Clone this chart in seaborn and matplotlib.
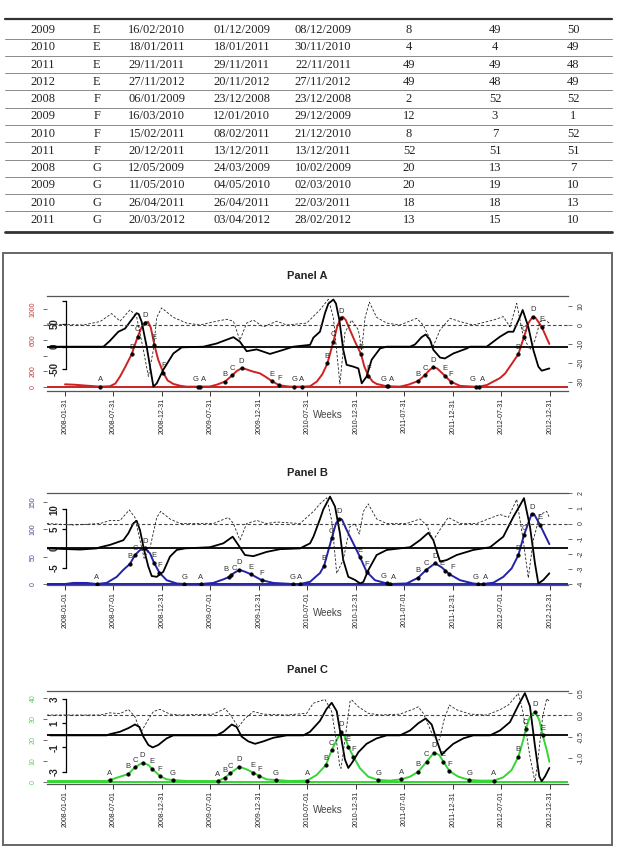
import matplotlib
matplotlib.use("Agg")
import matplotlib.pyplot as plt
import seaborn as sns
from matplotlib.patches import Rectangle

sns.set_style("white")
plt.rcParams['font.family'] = ['Liberation Sans', 'DejaVu Sans']

# ---- table values ----
tab_year = ['2009', '2010', '2011', '2012', '2008', '2009', '2010', '2011', '2008', '2009', '2010', '2011']
tab_site = ['E', 'E', 'E', 'E', 'F', 'F', 'F', 'F', 'G', 'G', 'G', 'G']
tab_d1 = ['16/02/2010', '18/01/2011', '29/11/2011', '27/11/2012', '06/01/2009', '16/03/2010',
          '15/02/2011', '20/12/2011', '12/05/2009', '11/05/2010', '26/04/2011', '20/03/2012']
tab_d2 = ['01/12/2009', '18/01/2011', '29/11/2011', '20/11/2012', '23/12/2008', '12/01/2010',
          '08/02/2011', '13/12/2011', '24/03/2009', '04/05/2010', '26/04/2011', '03/04/2012']
tab_d3 = ['08/12/2009', '30/11/2010', '22/11/2011', '27/11/2012', '23/12/2008', '29/12/2009',
          '21/12/2010', '13/12/2011', '10/02/2009', '02/03/2010', '22/03/2011', '28/02/2012']
tab_w1 = [8, 4, 49, 49, 2, 12, 8, 52, 20, 20, 18, 13]
tab_w2 = [49, 4, 49, 48, 52, 3, 7, 51, 13, 19, 18, 15]
tab_w3 = [50, 49, 48, 49, 52, 1, 52, 51, 7, 10, 13, 10]

# ---- x axis (week index) ----
tick_weeks = [0, 26, 52, 78, 104, 130, 156, 182, 208, 234, 260]
a_xlab = ['2008-01-31', '2008-07-31', '2008-12-31', '2009-07-31', '2009-12-31', '2010-07-31',
          '2010-12-31', '2011-07-31', '2011-12-31', '2012-07-31', '2012-12-31']
bc_xlab = ['2008-01-01', '2008-07-01', '2008-12-31', '2009-07-01', '2009-12-31', '2010-07-01',
           '2010-12-31', '2011-07-01', '2011-12-31', '2012-07-01', '2012-12-31']

# ---- Panel A ----
a_col_wk = [0, 5, 12, 18.8, 24.1, 27, 29.5, 32.2, 35.8, 39.0, 41, 42.9, 44.5, 46, 47.9, 50, 52.7, 55, 58.1, 62,
            65.2, 71.5, 77.7, 81.3, 85.8, 89.7, 92, 94.7, 97, 100, 104.6, 108, 110.8, 114.9, 120.6, 126.9,
            131.4, 135, 138, 140.7, 143.9, 146, 147.8, 149, 150.5, 152.8, 155.5, 158.7, 160.5, 162.6, 165,
            167.1, 172.5, 179.6, 184, 189.4, 193, 195.5, 197.5, 199.5, 201.5, 203.7, 206.8, 211.8, 218.9,
            222, 226.1, 233.2, 236, 238.6, 243.1, 246.1, 248.5, 250.8, 252.5, 255.6, 259.7]
a_col_val = [30, 25, 12, 0, 5, 40, 130, 250, 420, 645, 760, 825, 835, 760, 540, 345, 180, 80, 35, 10,
             0, 0, 2, 25, 65, 146, 200, 237, 225, 200, 170, 120, 73, 17, 0, 0,
             5, 65, 160, 300, 580, 780, 880, 900, 860, 730, 580, 420, 260, 140, 65,
             35, 5, 0, 25, 73, 150, 215, 250, 235, 190, 140, 65, 10, 0,
             0, 20, 110, 170, 260, 420, 640, 820, 900, 880, 770, 550]
a_blk_wk = [-8, 20.6, 24.1, 28.6, 32.2, 34.9, 38.4, 39.5, 41.1, 43.8, 46.5, 47.4, 49.2, 52.7, 58.1, 62.6,
            74.2, 81.3, 90.3, 93.8, 97.4, 102.8, 109.9, 117.1, 122.4, 131.4, 133.2, 136.7, 139.4, 141.2,
            143.9, 145.3, 147.1, 149.2, 151.0, 154.6, 157.3, 159.1, 161.7, 164.4, 168.9, 172.5, 185.0,
            187.7, 191.2, 193.4, 195.7, 197.5, 201.1, 203.7, 208.2, 215.4, 217.2, 226.1, 233.2, 237.7,
            240.4, 244.0, 245.4, 248.4, 251.1, 253.8, 255.6, 259.7]
a_blk_val = [0, 0, 13, 33, 40, 55, 74, 72, 55, 0, -66, -88, -81, -51, -15, -1.5,
             0, 7, 21, 11, -10, -6, -16, -7, 0, 4, 20, 33, 74, 95,
             104, 95, 59, -7, -40, -44, -48, -81, -66, -29, -4, 0, 0,
             5, 21, 27, 15, -7, -24, -26, -15, -4, 0, 0, 22, 33,
             33, 66, 81, 44, -7, -44, -53, -48]
a_dsh_wk = [-9.8, 9.8, 18.8, 25.0, 29.5, 34.9, 38.4, 42.0, 44.7, 47.4, 49.2, 51.8, 58.1, 65.2, 72.4, 81.3,
            86.7, 90.3, 93.8, 97.4, 101.0, 106.3, 113.5, 118.9, 129.6, 136.7, 141.2, 143.9, 147.4, 150.1,
            153.7, 157.3, 159.1, 160.9, 163.2, 167.1, 172.5, 179.6, 188.6, 192.1, 197.5, 201.1, 206.4,
            211.8, 218.9, 229.7, 235.0, 238.6, 242.2, 245.7, 249.3, 252.0, 254.7, 257.4, 259.7]
a_dsh_val = [0.5, 0, 1.8, 6, 2, 8, 4.4, -13, -27, -13, 4, 9, 4, 1, 0, 2,
             3, 2, -8, 1, 2.6, -1, 2, 0, 1, 8, 13.5, 4, -31, -4,
             2.6, -2.6, -13, 4, 12, 4, 1, 0, 3.5, 0, -11, -2.6, 3.5,
             1.8, 0, 2.6, 4.4, -1, 11.4, -6, -13, -8, 1.8, 2.6, 1]
a_pt_lab = ['A', 'B', 'C', 'D', 'E', 'F', 'G', 'A', 'B', 'C', 'D', 'E', 'F', 'G', 'A', 'B', 'C', 'D', 'E', 'F',
            'G', 'A', 'B', 'C', 'D', 'E', 'F', 'G', 'A', 'B', 'C', 'D', 'E']
a_pt_wk = [18.8, 35.8, 39.0, 42.9, 47.9, 52.7, 71.5, 72.4, 85.8, 89.7, 94.7, 110.8, 114.9, 123.0, 126.9,
           140.7, 143.9, 147.8, 158.7, 162.6, 172.5, 173.2, 189.4, 193.0, 197.5, 203.7, 206.8, 220.2, 222.0,
           243.1, 246.1, 250.8, 255.6]
a_pt_val = [0, 420, 645, 825, 540, 180, 0, 0, 65, 146, 237, 73, 17, 0, 0,
            300, 580, 880, 420, 140, 5, 3, 73, 150, 250, 140, 65, 0, 0,
            420, 640, 900, 770]

# ---- Panel B ----
b_col_wk = [-9.8, 0, 4.5, 11.6, 17, 22.3, 27.7, 31.3, 34.9, 37.5, 40.2, 42.9, 45.6, 47.7, 50.6, 54.5, 59.9,
            64, 72.9, 79.5, 84.9, 88.1, 90.3, 93.5, 96.5, 99.6, 102.8, 105.5, 111.7, 122.1, 126, 131.4, 134,
            136.7, 138.9, 143, 145.3, 147.1, 148.5, 151, 155.5, 158.2, 161.7, 166.2, 172.5, 174.3, 183.2,
            189.4, 193.6, 198.4, 202, 206.1, 211.8, 218.9, 221.6, 223.9, 229.7, 235, 239.5, 243.1, 246.1,
            250.2, 251.5, 254.7, 259.7]
b_col_val = [0, 0, 2, 2, 0, 2, 13, 26, 37, 53, 62, 65, 56, 39, 21, 7, 1,
             0, 0, 2, 8.5, 13, 19.5, 26, 22.5, 18, 12, 7, 2, 0, 0, 4, 12,
             20, 33, 83.5, 111, 119, 118, 99, 68, 49, 22.5, 7, 1, 0, 1,
             11.6, 25.6, 37.8, 30.5, 18, 7, 1, 0, 0, 2.4, 13, 28.7, 53, 89.6,
             128, 128, 108, 73]
b_blk_wk = [-9.8, 8, 17, 18.8, 24.1, 31.3, 34, 36.6, 38.4, 40.2, 42.4, 44.7, 46.5, 49.2, 52.7, 56.3, 59.9,
            64.3, 77.7, 84.9, 89.9, 92.9, 96.5, 101, 108.1, 115.3, 126, 131.4, 133.2, 136.7, 138.5, 142.1,
            144.8, 147.4, 149.2, 151.9, 155.5, 158.2, 160, 162.6, 167.1, 172.5, 179.6, 185, 190.3, 194.8,
            197.5, 201.1, 204.6, 210, 218.9, 227.9, 235, 240.4, 244, 246.1, 249.3, 252, 253.8, 256.5, 259.7]
b_blk_val = [0, -0.3, 0, 0.3, 0.9, 2.1, 3.9, 6.4, 7.1, 4.7, -0.4, -4.7, -7.1, -7.3, -6, -2.1, -0.4,
             0, 0.3, 1.3, 3, 0.9, -1.7, -2, -0.9, -0.2, 0, 1.3, 3, 7.5, 10, 13.3,
             10.7, 3.9, -3, -7.3, -8.1, -9, -8.6, -5.6, -1.7, -0.4, 0, 0.3, 2.1, 4,
             2.1, -3.4, -3, -1.7, -0.4, 0.3, 3, 8.1, 11.1, 12.9, 5.6, -3.9, -9, -8.1, -6.4]
b_dsh_wk = [-9.8, 4.5, 18.8, 24.1, 29.5, 34.5, 37.5, 40.2, 42.4, 45.6, 49.2, 51.3, 56.3, 61.7, 79.5, 87.6,
            90.3, 93.8, 97.4, 102.8, 108.1, 113.5, 126, 133.2, 136.7, 140.3, 143, 145.7, 149.2, 152.8, 155.5,
            157.8, 160, 162.6, 167.1, 172.5, 183.2, 190.3, 193.9, 197.5, 201.1, 205.5, 211.8, 220.7, 233.2,
            237.7, 242.2, 245.7, 248.4, 251.1, 254.7, 258.3, 259.7]
b_dsh_val = [0, -0.1, 0, 0.2, 0.2, 0.9, 0.4, -1.1, -2.3, -1.6, 0.4, 0.8, 0.3, 0, 0, 0.4,
             0, -1.1, 0, 0.2, 0, 0.1, 0, 0.8, 1.3, 1.7, 0.2, -3.3, -2.4, -0.2, 0,
             -0.7, 0.8, 1.3, 0.3, 0, 0, 0.3, -0.1, -1.1, -0.4, 0.4, 0, 0, 0.6,
             0.4, 1.6, -1.1, -3.6, -1.1, 0.6, 0.8, 0.4]
b_pt_lab = ['A', 'B', 'C', 'D', 'E', 'F', 'G', 'A', 'B', 'C', 'D', 'E', 'F', 'G', 'A', 'B', 'C', 'D', 'E', 'F',
            'G', 'A', 'B', 'C', 'D', 'E', 'F', 'G', 'A', 'B', 'C', 'D', 'E']
b_pt_wk = [17, 34.9, 37.5, 42.9, 47.7, 50.6, 64.0, 72.9, 88.1, 89.0, 93.5, 99.6, 105.5, 122.1, 126.0,
           138.9, 143.0, 147.1, 158.2, 161.7, 172.5, 174.3, 189.4, 193.6, 198.4, 204.0, 206.1, 221.6, 223.9,
           243.1, 246.1, 250.2, 254.7]
b_pt_val = [0, 37, 53, 65, 39, 21, 0, 0, 13, 16, 26, 18, 7, 0, 0,
            33, 83.5, 119, 49, 22.5, 1, 0, 11.6, 25.6, 37.8, 24, 18, 0, 0,
            53, 89.6, 128, 108]

# ---- Panel C ----
c_col_wk = [-9.8, 22.3, 24.1, 29.5, 34, 37.5, 41.6, 44.7, 46.8, 50.9, 54.5, 57.7, 65.2, 81.9, 85.8, 88.5,
            93.5, 97.4, 101, 104.2, 108.1, 113, 120.6, 129.8, 134.9, 139.9, 143, 145.7, 148, 150.1, 151.9,
            154.6, 158.2, 162.6, 168, 174.3, 180.2, 185, 189.4, 193.9, 197.8, 200.7, 202.9, 206.1, 210.9,
            216.8, 222.5, 230, 235, 239.5, 243.1, 245.7, 247, 249.3, 252, 254.3, 256.1, 258.3, 259.7]
c_col_val = [0.3, 0.3, 0.8, 2.4, 3.7, 6.9, 9.1, 8, 6.1, 2.7, 1.1, 0.8, 0.3, 0.3, 1.9, 4,
             7.2, 5.9, 4.3, 2.7, 1.1, 0.8, 0.3, 0.5, 3.2, 8, 15.2, 20, 24, 21.6, 16.8,
             12, 6.4, 2.4, 0.8, 0.5, 1.1, 2.4, 4.8, 9.6, 13.9, 12.8, 9.6, 5.1, 2.4,
             0.8, 0.5, 0.5, 2.1, 5.6, 12, 20, 25.1, 31.2, 33.6, 29.6, 22.4, 15.2, 9.6]
c_blk_wk = [-8, 22.3, 24.1, 29.5, 34, 37.5, 39.9, 42, 44.7, 47, 50, 54.5, 58.1, 81.3, 84.9, 89.4, 92, 94.7,
            98.3, 101.9, 106.3, 111.7, 118.9, 127.8, 131.4, 136.7, 140.3, 143, 145.7, 148.3, 150.1, 151.9,
            154.2, 157.3, 161.7, 167.1, 172.5, 179.6, 185, 189.4, 193.4, 196.6, 199.3, 202, 204.6, 208.2,
            213.6, 218.9, 227.9, 233.2, 238.6, 243.1, 246.6, 249.3, 252, 254.3, 255.6, 257.4, 259.7]
c_blk_val = [0, 0, 0.1, 0.3, 0.6, 0.9, 0.7, -0.1, -0.8, -1, -0.8, -0.25, 0, 0, 0.3, 0.9, 0.7, -0.1,
             -0.5, -0.7, -0.5, -0.2, 0, 0, 0.3, 1.2, 2.2, 2.7, 2.0, -0.4, -2.0, -2.7,
             -2.2, -1.4, -0.7, -0.25, 0, 0, 0.4, 1.0, 1.4, 0.9, -0.4, -1.6, -1.2, -0.7,
             -0.25, 0, 0, 0.4, 1.1, 2.5, 3.5, 2.4, -0.9, -3.4, -3.8, -3.4, -2.7]
c_dsh_wk = [-9.8, 18.8, 24.1, 29.5, 34, 37.5, 40.2, 41.1, 44.7, 47.4, 50.9, 56.3, 61.7, 79.5, 85.8, 89.4,
            92.9, 96.5, 101, 106.3, 118.9, 129.6, 133.1, 139.4, 143, 145.7, 147.4, 148, 150.1, 152.8, 153.7,
            157.3, 162.6, 168.9, 179.6, 187.7, 189.4, 192.1, 197.5, 200.7, 203.2, 206.1, 210, 217.2, 226.1,
            233.2, 237.7, 243.1, 245.7, 249.3, 252, 253.8, 256.1, 258.3, 259.7]
c_dsh_val = [0, 0, 0.05, 0.03, 0.13, -0.04, -0.35, -0.37, -0.1, 0.08, 0.13, 0.02, 0, 0.02, 0.15, -0.04,
             -0.28, -0.08, 0.08, 0.02, 0, 0.04, 0.27, 0.36, 0.08, -0.65, -1.2, -1.23, -0.58, 0.31, 0.35,
             0.19, 0.04, 0, 0.02, 0.15, 0.19, 0.04, -0.5, -0.58, -0.12, 0.23, 0.12, 0.02, 0,
             0.12, 0.23, 0.5, 0.04, -0.96, -1.54, -0.96, -0.04, 0.38, 0.31]
c_pt_lab = ['A', 'B', 'C', 'D', 'E', 'F', 'G', 'A', 'B', 'C', 'D', 'E', 'F', 'G', 'A', 'B', 'C', 'D', 'E', 'F',
            'G', 'A', 'B', 'C', 'D', 'E', 'F', 'G', 'A', 'B', 'C', 'D', 'E']
c_pt_wk = [24.1, 34.0, 37.5, 41.6, 46.8, 50.9, 57.7, 81.9, 85.8, 88.5, 93.5, 101.0, 104.2, 113.0, 129.8,
           139.9, 143.0, 148.0, 151.9, 154.6, 168.0, 180.2, 189.4, 193.9, 197.8, 202.9, 206.1, 216.8, 230.0,
           243.1, 247.0, 252.0, 256.1]
c_pt_val = [0.8, 3.7, 6.9, 9.1, 6.1, 2.7, 0.8, 0.3, 1.9, 4, 7.2, 4.3, 2.7, 0.8, 0.5,
            8, 15.2, 24, 16.8, 12, 0.8, 1.1, 4.8, 9.6, 13.9, 9.6, 5.1, 0.8, 0.5,
            12, 25.1, 33.6, 22.4]

panels = [
    dict(title='Panel A', top=295.7, bot=391.0, title_y=276, weeks_y=415,
         col='#cc2222', labcol='#c03a3a', xlab=a_xlab,
         cw=a_col_wk, cv=a_col_val, kw=a_blk_wk, kv=a_blk_val, dw=a_dsh_wk, dv=a_dsh_val,
         pl=a_pt_lab, pw=a_pt_wk, pv=a_pt_val,
         clim=(-56, 1171), klim=(-97.8, 112.5), dlim=(-34.7, 15.4),
         cticks=[0, 200, 400, 600, 800, 1000], clabs=['0', '200', '', '600', '', '1000'],
         kticks=[-50, 0, 50, 100], klabs=['-50', '0', '50', ''], kbounds=(-50, 100),
         dticks=[-30, -20, -10, 0, 10], dlabs=['-30', '-20', '-10', '0', '10']),
    dict(title='Panel B', top=492.7, bot=585.0, title_y=473, weeks_y=613,
         col='#2222aa', labcol='#4a4a9a', xlab=bc_xlab,
         cw=b_col_wk, cv=b_col_val, kw=b_blk_wk, kv=b_blk_val, dw=b_dsh_wk, dv=b_dsh_val,
         pl=b_pt_lab, pw=b_pt_wk, pv=b_pt_val,
         clim=(-1.8, 167), klim=(-9.4, 14.3), dlim=(-4.07, 2.04),
         cticks=[0, 50, 100, 150], clabs=['0', '50', '100', '150'],
         kticks=[-5, 0, 5, 10], klabs=['-5', '0', '5', '10'], kbounds=(-5, 10),
         dticks=[-4, -3, -2, -1, 0, 1, 2], dlabs=['-4', '-3', '-2', '-1', '0', '1', '2']),
    dict(title='Panel C', top=690.7, bot=784.0, title_y=670, weeks_y=810,
         col='#33d633', labcol='#5ccf5c', xlab=bc_xlab,
         cw=c_col_wk, cv=c_col_val, kw=c_blk_wk, kv=c_blk_val, dw=c_dsh_wk, dv=c_dsh_val,
         pl=c_pt_lab, pw=c_pt_wk, pv=c_pt_val,
         clim=(-1.12, 43.7), klim=(-4.03, 3.70), dlim=(-1.59, 0.56),
         cticks=[0, 10, 20, 30, 40], clabs=['0', '10', '20', '30', '40'],
         kticks=[-3, -1, 1, 3], klabs=['-3', '-1', '1', '3'], kbounds=(-3, 3),
         dticks=[-1.0, -0.5, 0.0, 0.5], dlabs=['-1.0', '-0.5', '0.0', '0.5']),
]

W, H = 621, 849
fig = plt.figure(figsize=(W / 100, H / 100), dpi=100)

def rect(x0, y0, x1, y1):
    return [x0 / W, 1 - y1 / H, (x1 - x0) / W, (y1 - y0) / H]

# overlay in pixel coordinates for table, frame and texts
page = fig.add_axes([0, 0, 1, 1], zorder=-5)
page.set_xlim(0, W)
page.set_ylim(H, 0)
page.axis('off')

col_x = [42.7, 96.7, 156.7, 241.7, 323, 409, 495, 573]
row_y0, row_h = 30.0, 17.27
for i in range(len(tab_year)):
    y = row_y0 + i * row_h
    cells = [tab_year[i], tab_site[i], tab_d1[i], tab_d2[i], tab_d3[i],
             str(tab_w1[i]), str(tab_w2[i]), str(tab_w3[i])]
    for x, s in zip(col_x, cells):
        page.text(x, y, s, ha='center', va='center', fontsize=9, color='#222222',
                  family=['Liberation Serif', 'DejaVu Serif'])
    if i < len(tab_year) - 1:
        page.plot([5, 612], [y + row_h / 2] * 2, color='#8a8a8a', lw=0.7)
page.plot([5, 612], [19.3, 19.3], color='#333333', lw=1.6)
page.plot([5, 612], [231.7, 231.7], color='#333333', lw=2.0)

page.add_patch(Rectangle((3, 253), 609, 592, fill=False, edgecolor='#666666', lw=1.4))

x0_px, x1_px = 47, 568
xlo, xhi = -9.65, 269.7
inner_frac = (66 - x0_px) / (x1_px - x0_px)

for p in panels:
    page.text(307, p['title_y'], p['title'], ha='center', va='center', fontsize=8,
              fontweight='bold', color='#222222')
    page.text(328, p['weeks_y'], 'Weeks', ha='center', va='center', fontsize=7, color='#444444')

    r = rect(x0_px, p['top'], x1_px, p['bot'])
    ax = fig.add_axes(r)
    axk = fig.add_axes(r, sharex=ax)
    axd = fig.add_axes(r, sharex=ax)
    for a in (axk, axd):
        a.patch.set_visible(False)
    ax.patch.set_visible(False)

    # coloured series on the outer left axis
    ax.axhline(0, color=p['col'], lw=1.4, zorder=2)
    sns.lineplot(x=p['cw'], y=p['cv'], ax=ax, color=p['col'], lw=1.4, estimator=None, sort=False, zorder=3)
    sns.scatterplot(x=p['pw'], y=p['pv'], ax=ax, color='black', s=7, edgecolor='black', linewidth=0.3,
                    zorder=5)
    n = len(p['pl'])
    for i, (lab, w, v) in enumerate(zip(p['pl'], p['pw'], p['pv'])):
        dx = 0
        if i + 1 < n and p['pw'][i + 1] - w < 2.5:
            dx = -2.2
        elif i > 0 and w - p['pw'][i - 1] < 2.5:
            dx = 2.2
        ax.annotate(lab, (w, v), xytext=(dx, 2.5), textcoords='offset points', ha='center', va='bottom',
                    fontsize=5.5, color='#333333', zorder=6)
    ax.set_ylim(*p['clim'])
    ax.set_xlim(xlo, xhi)
    ax.set_yticks(p['cticks'])
    ax.set_yticklabels(p['clabs'], rotation=90, va='center', color=p['labcol'], fontsize=5)
    ax.tick_params(axis='y', direction='out', length=3, width=0.6, color='#555555', pad=4.5, left=True)
    ax.set_xticks(tick_weeks)
    ax.set_xticklabels(p['xlab'], rotation=90, fontsize=5, color='#222222')
    ax.tick_params(axis='x', direction='out', length=3.5, width=0.7, color='#333333', pad=1.5, bottom=True)
    for side in ('left', 'right'):
        ax.spines[side].set_visible(False)
    for side in ('top', 'bottom'):
        ax.spines[side].set_color('#555555')
        ax.spines[side].set_linewidth(0.9)
    ax.set_xlabel('')
    ax.set_ylabel('')

    # black solid series on the inner left axis
    axk.axhline(0, color='black', lw=1.3, zorder=2)
    sns.lineplot(x=p['kw'], y=p['kv'], ax=axk, color='black', lw=1.3, estimator=None, sort=False)
    axk.set_ylim(*p['klim'])
    axk.set_xlim(xlo, xhi)
    for side in ('top', 'bottom', 'right'):
        axk.spines[side].set_visible(False)
    axk.spines['left'].set_position(('axes', inner_frac))
    axk.spines['left'].set_bounds(*p['kbounds'])
    axk.spines['left'].set_color('black')
    axk.spines['left'].set_linewidth(0.9)
    axk.set_yticks(p['kticks'])
    axk.set_yticklabels(p['klabs'], rotation=90, va='center', fontsize=7, fontweight='bold')
    axk.tick_params(axis='y', direction='out', length=3, width=0.9, color='black', pad=1.5, left=True)
    axk.tick_params(axis='x', bottom=False, labelbottom=False)
    axk.set_xlabel('')
    axk.set_ylabel('')

    # dashed series on the right axis
    axd.axhline(0, color='#444444', lw=0.8, ls=(0, (3, 2)), zorder=2)
    sns.lineplot(x=p['dw'], y=p['dv'], ax=axd, color='#222222', lw=0.6, linestyle=(0, (3, 2)),
                 estimator=None, sort=False)
    axd.set_ylim(*p['dlim'])
    axd.set_xlim(xlo, xhi)
    for side in ('top', 'bottom', 'left', 'right'):
        axd.spines[side].set_visible(False)
    axd.yaxis.set_label_position('right')
    axd.yaxis.tick_right()
    axd.set_yticks(p['dticks'])
    axd.set_yticklabels(p['dlabs'], rotation=90, va='center', fontsize=5, color='#333333')
    axd.tick_params(axis='y', direction='out', length=3, width=0.6, color='#555555', pad=4,
                    right=True, left=False)
    axd.tick_params(axis='x', bottom=False, labelbottom=False)
    axd.set_xlabel('')
    axd.set_ylabel('')

fig.savefig('out.png', dpi=100)
